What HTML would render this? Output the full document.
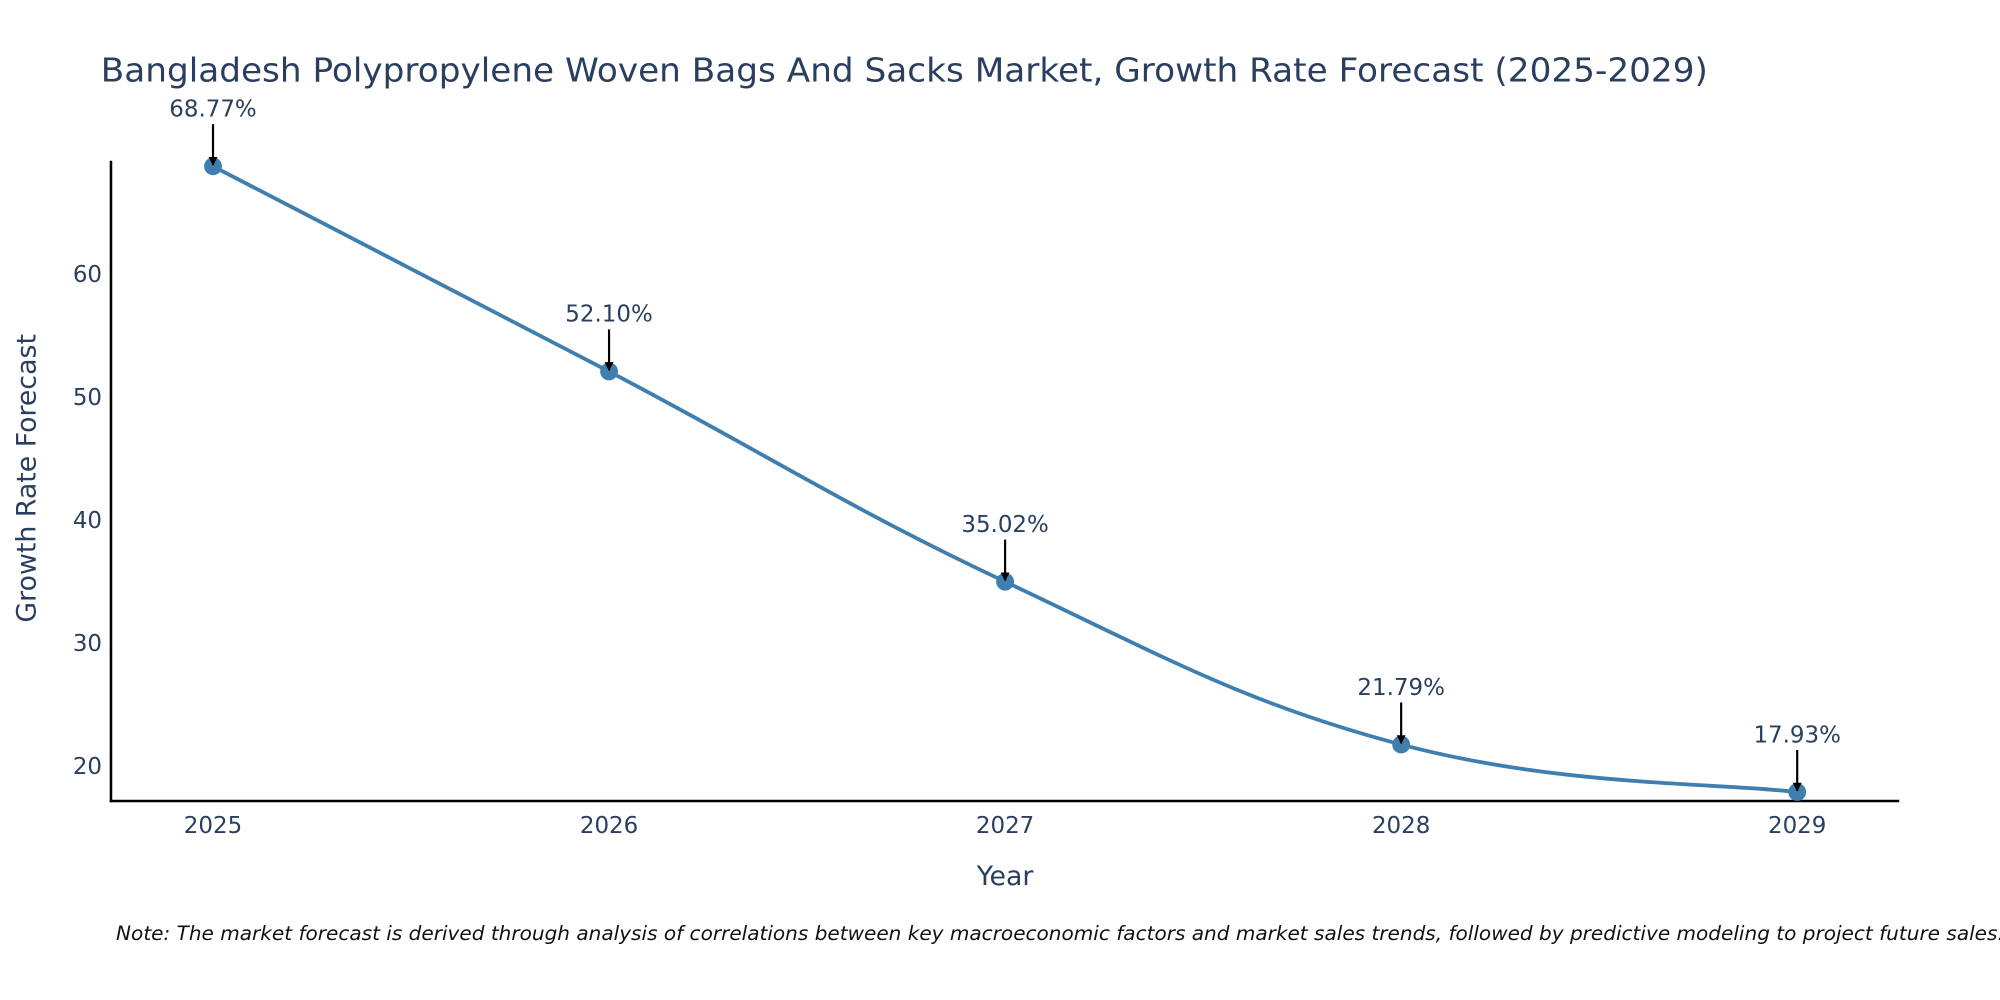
<!DOCTYPE html>
<html><head><meta charset="utf-8"><style>
html,body{margin:0;padding:0;background:#fff;width:2000px;height:1000px;overflow:hidden}
svg{display:block}
text{font-family:"DejaVu Sans","Liberation Sans",sans-serif;fill:#2a3f5f}
</style></head><body>
<svg id="chart" width="2000" height="1000" viewBox="0 0 1568 784" preserveAspectRatio="none" xmlns="http://www.w3.org/2000/svg">
<defs><marker id="ah" viewBox="0 0 10 10" refX="9" refY="5" markerWidth="7" markerHeight="7" markerUnits="userSpaceOnUse" orient="auto"><path d="M0,0L10,5L0,10z" fill="#000"/></marker></defs>
<text x="79" y="64" font-size="26" textLength="1260" lengthAdjust="spacingAndGlyphs">Bangladesh Polypropylene Woven Bags And Sacks Market, Growth Rate Forecast (2025-2029)</text>
<g id="yticks"></g><g id="xticks"></g>
<line x1="87" y1="126" x2="87" y2="629" stroke="#000" stroke-width="2"/>
<line x1="86" y1="628" x2="1489" y2="628" stroke="#000" stroke-width="2"/>
<path id="series-line" fill="none" stroke="#3f7fb0" stroke-width="3"/>
<g id="marks"></g>
<text transform="translate(28,375) rotate(-90)" text-anchor="middle" font-size="21">Growth Rate Forecast</text>
<text x="788" y="694" text-anchor="middle" font-size="21">Year</text>
<text x="91" y="737" font-size="15" font-style="italic" style="fill:#111" textLength="1480" lengthAdjust="spacingAndGlyphs">Note: The market forecast is derived through analysis of correlations between key macroeconomic factors and market sales trends, followed by predictive modeling to project future sales.</text>
</svg>
<script>
const years=["2025","2026","2027","2028","2029"];
const values=[68.77,52.10,35.02,21.79,17.93];
const labels=["68.77%","52.10%","35.02%","21.79%","17.93%"];
const yTicks=[20,30,40,50,60];
const NS="http://www.w3.org/2000/svg";
function xs(i){return 167+i*310.5;}
function ys(v){return 601-(v-20)*9.65;}
function mk(t,a,p){const e=document.createElementNS(NS,t);for(const k in a)e.setAttribute(k,a[k]);p.appendChild(e);return e;}
const yt=document.getElementById('yticks');
yTicks.forEach(v=>{const t=mk('text',{x:80,y:ys(v)+6,'text-anchor':'end','font-size':18},yt);t.textContent=v;

});
const xt=document.getElementById('xticks');
years.forEach((y,i)=>{const t=mk('text',{x:xs(i),y:653,'text-anchor':'middle','font-size':18},xt);t.textContent=y;

});
const pts=values.map((v,i)=>[xs(i),ys(v)]);
let d="M"+pts[0][0]+","+pts[0][1];
const s=0.2;
for(let i=0;i<pts.length-1;i++){const p0=pts[Math.max(0,i-1)],p1=pts[i],p2=pts[i+1],p3=pts[Math.min(pts.length-1,i+2)];
d+=" C"+(p1[0]+(p2[0]-p0[0])*s)+","+(p1[1]+(p2[1]-p0[1])*s)+" "+(p2[0]-(p3[0]-p1[0])*s)+","+(p2[1]-(p3[1]-p1[1])*s)+" "+p2[0]+","+p2[1];}
document.getElementById('series-line').setAttribute('d',d);
const g=document.getElementById('marks');
pts.forEach((p,i)=>{
const c=mk('circle',{cx:p[0],cy:p[1],r:7,fill:'#3f7fb0'},g);


const a=mk('line',{x1:p[0],y1:p[1]-33,x2:p[0],y2:p[1]-1,stroke:'#000','stroke-width':1.7,'marker-end':'url(#ah)'},g);


const t=mk('text',{x:p[0],y:p[1]-39,'text-anchor':'middle','font-size':18},g);t.textContent=labels[i];


});
</script>
</body></html>
